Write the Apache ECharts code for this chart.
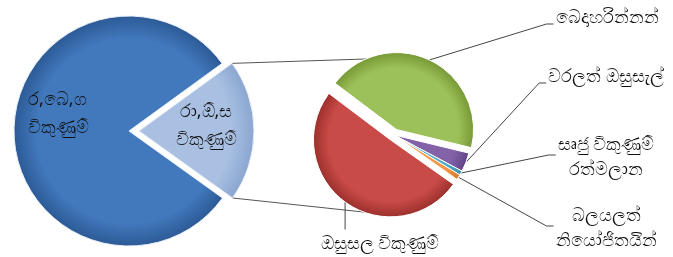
<!DOCTYPE html>
<html>
<head>
<meta charset="utf-8">
<script src="https://cdn.jsdelivr.net/npm/echarts@6/dist/echarts.min.js"></script>
<style>
  html, body { margin: 0; padding: 0; background: #fff; }
  #chart { width: 673px; height: 257px; }
</style>
</head>
<body>
<div id="chart"></div>
<script>
// main pie: the light-blue slice is broken out into the small pie
const mainNames = ['රා,ඕ,ස\nවිකුණුම්', 'ර,බෙ,ග\nවිකුණුම්'];
const mainValues = [19.9, 80.1];

const subNames = ['බෙදාහරින්නන්', 'වරලත් ඔසුසැල්', 'සෘජු විකුණුම්\nරත්මලාන', 'බලයලත්\nනියෝජිතයින්', 'ඔසුසල විකුණුම්'];
const subValues = [43.5, 4.0, 0.9, 1.1, 50.5];

// layout
const mainC = [129, 131], mainR = 115, mainStart = 36;
const mainOffsets = [10, 0];
const subC = [394, 135], subR = 77, subStart = 143;
const subOffsets = [6, 0, 0, 0, 6];
const mainLabelPos = [[206, 126, 'center'], [28, 114, 'left']];
const subLabelPos = [[607, 18], [606, 77], [606, 157], [606, 228], [380, 244]];

const FONT = 'Noto Sans, DejaVu Sans, sans-serif';
const deg = Math.PI / 180;

function grad(c, r, inner, outer) {
  return {
    type: 'radial', x: c[0], y: c[1], r: r, global: true,
    colorStops: [
      { offset: 0, color: inner },
      { offset: 0.8, color: inner },
      { offset: 1, color: outer }
    ]
  };
}

const mainColors = [['#a9c0e2', '#8aa6d0'], ['#4279bd', '#2c5a96']];
const subColors = [
  ['#9cc05a', '#789a36'], ['#8462a8', '#62448a'], ['#4bacc6', '#3890a8'],
  ['#f79646', '#d87a2c'], ['#c94b47', '#9c302d']
];

// mid angle of slice i (degrees, clockwise from start)
function midAngle(values, start, i) {
  const tot = values.reduce((a, b) => a + b, 0);
  let before = 0;
  for (let k = 0; k < i; k++) before += values[k];
  return start - (before + values[i] / 2) / tot * 360;
}

// one pie series per slice so each can be pulled out on its own
function sliceSeries(names, values, c, r, start, offsets, colors, border, labelOpt, layoutFn) {
  return names.map((_, i) => {
    const a = midAngle(values, start, i);
    const cc = [c[0] + offsets[i] * Math.cos(a * deg), c[1] - offsets[i] * Math.sin(a * deg)];
    return {
      type: 'pie',
      center: cc,
      radius: r,
      startAngle: start,
      clockwise: true,
      silent: true,
      emphasis: { disabled: true },
      label: labelOpt,
      labelLine: labelOpt.position === 'inside' ? { show: false } : { show: true, lineStyle: { color: '#444', width: 1 } },
      labelLayout: function (p) { return layoutFn(p, i); },
      data: names.map((n, j) => j === i ? {
        name: n, value: values[j],
        itemStyle: { color: grad(cc, r, colors[j][0], colors[j][1]), borderColor: border, borderWidth: 1 }
      } : {
        name: '', value: values[j],
        itemStyle: { color: 'rgba(0,0,0,0)' },
        label: { show: false }, labelLine: { show: false }
      })
    };
  });
}

const chart = echarts.init(document.getElementById('chart'));

// connector lines from main light slice edges to small pie top / bottom
const sliceAng = mainValues[0] / mainValues.reduce((a, b) => a + b, 0) * 360;
const ma = midAngle(mainValues, mainStart, 0);
const apex = [mainC[0] + mainOffsets[0] * Math.cos(ma * deg), mainC[1] - mainOffsets[0] * Math.sin(ma * deg)];
function onMain(a) {
  return [apex[0] + mainR * Math.cos(a * deg), apex[1] - mainR * Math.sin(a * deg)];
}
function onSub(a) {
  return [subC[0] + subR * Math.cos(a * deg), subC[1] - subR * Math.sin(a * deg)];
}
const upA = onMain(mainStart), upB = onSub(95);
const loA = onMain(mainStart - sliceAng), loB = onSub(254);
loB[1] += 4;

const mainSeries = sliceSeries(mainNames, mainValues, mainC, mainR, mainStart, mainOffsets, mainColors, '#e8eef7',
  { position: 'inside', color: '#111', fontFamily: FONT, fontSize: 18, lineHeight: 28 },
  function (p, i) {
    if (p.dataIndex !== i) return {};
    const pos = mainLabelPos[i];
    return { x: pos[0], y: pos[1], align: pos[2], verticalAlign: 'middle' };
  });

const subSeries = sliceSeries(subNames, subValues, subC, subR, subStart, subOffsets, subColors, '#ffffff',
  { position: 'outside', color: '#111', fontFamily: FONT, fontSize: 18, lineHeight: 25, align: 'center' },
  function (p, i) {
    if (p.dataIndex !== i) return {};
    const pos = subLabelPos[i];
    const p0 = p.labelLinePoints ? p.labelLinePoints[0] : [pos[0], pos[1]];
    const w = p.labelRect.width, h = p.labelRect.height;
    let pts;
    if (i === 4) {
      const top = pos[1] - h / 2 - 2;
      pts = [p0, [p0[0], top], [p0[0], top]];
    } else {
      const left = pos[0] - w / 2 - 2;
      const y = h > 30 ? pos[1] - 2 : pos[1] + 6;
      pts = [p0, [left - 7, y], [left, y]];
    }
    return { x: pos[0], y: pos[1], align: 'center', verticalAlign: 'middle', labelLinePoints: pts };
  });

chart.setOption({
  animation: false,
  graphic: [
    { type: 'line', z: -1, shape: { x1: upA[0], y1: upA[1], x2: upB[0], y2: upB[1] }, style: { stroke: '#555', lineWidth: 1 } },
    { type: 'line', z: -1, shape: { x1: loA[0], y1: loA[1], x2: loB[0], y2: loB[1] }, style: { stroke: '#555', lineWidth: 1 } }
  ],
  series: mainSeries.concat(subSeries)
});
</script>
</body>
</html>
